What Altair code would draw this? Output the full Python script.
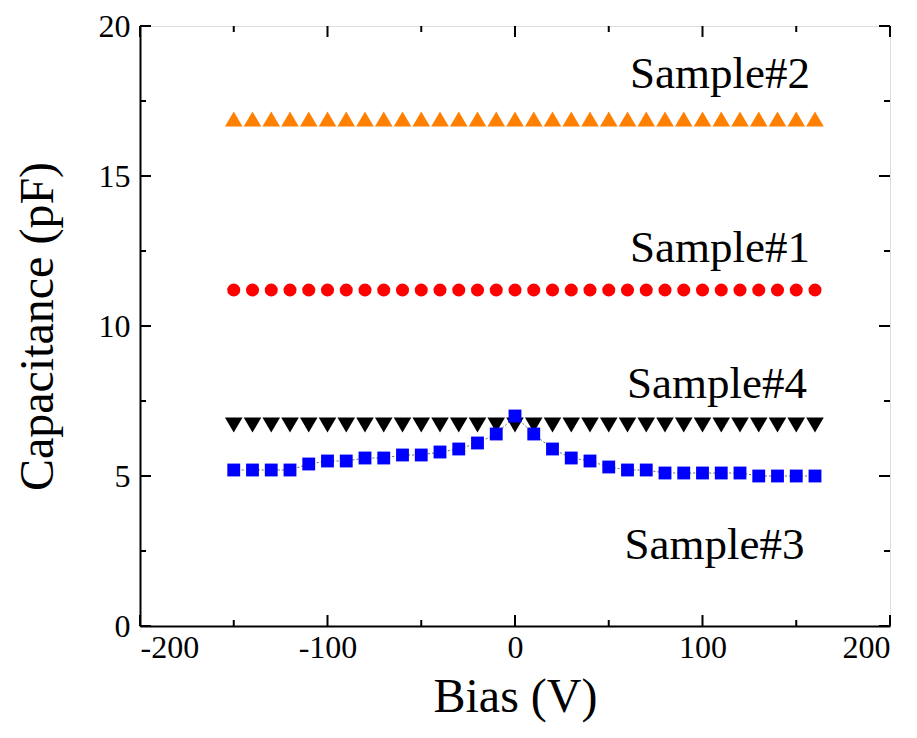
import altair as alt
import pandas as pd

bias = [-150, -140, -130, -120, -110, -100, -90, -80, -70, -60, -50, -40, -30, -20, -10, 0,
        10, 20, 30, 40, 50, 60, 70, 80, 90, 100, 110, 120, 130, 140, 150, 160]
sample1 = [11.2] * 32
sample2 = [16.9] * 32
sample4 = [6.7] * 32
sample3 = [5.2, 5.2, 5.2, 5.2, 5.4, 5.5, 5.5, 5.6, 5.6, 5.7, 5.7, 5.8, 5.9, 6.1, 6.4, 7.0,
           6.4, 5.9, 5.6, 5.5, 5.3, 5.2, 5.2, 5.1, 5.1, 5.1, 5.1, 5.1, 5.0, 5.0, 5.0, 5.0]

label_text = ["Sample#2", "Sample#1", "Sample#4", "Sample#3"]
label_x = [109.3, 109.3, 107.7, 106.4]
label_y = [18.4, 12.6, 8.07, 2.7]

x_major = [-200, -100, 0, 100, 200]
x_minor = [-150, -50, 50, 150]
y_major = [0, 5, 10, 15, 20]
y_minor = [2.5, 7.5, 12.5, 17.5]

W, H = 750, 600
FONT = "Liberation Serif"

xs = alt.Scale(domain=[-200, 200], nice=False, zero=False)
ys = alt.Scale(domain=[0, 20], nice=False, zero=False)

def df(vals):
    return pd.DataFrame({"bias": bias, "cap": vals})

xaxis = alt.Axis(values=x_major, labelExpr="datum.value", ticks=False, grid=False, domainColor="black",
                 domainWidth=2, labelFont=FONT, labelFontSize=32, labelColor="black",
                 labelPadding=6, title="Bias (V)", titleFont=FONT, titleFontSize=48,
                 titleFontWeight="normal", titleColor="black", titlePadding=10)
yaxis = alt.Axis(values=y_major, labelExpr="datum.value", ticks=False, grid=False, domainColor="black",
                 domainWidth=2, labelFont=FONT, labelFontSize=32, labelColor="black",
                 labelPadding=10, title="Capacitance (pF)", titleFont=FONT, titleFontSize=48,
                 titleFontWeight="normal", titleColor="black", titlePadding=36)

X = lambda: alt.X("bias:Q", scale=xs, axis=xaxis)
Y = lambda: alt.Y("cap:Q", scale=ys, axis=yaxis)

line3 = alt.Chart(df(sample3)).mark_line(color="black", strokeWidth=0.6,
                                         strokeDash=[2, 2]).encode(x=X(), y=Y())
s2 = alt.Chart(df(sample2)).mark_point(shape="triangle-up", filled=True, size=310,
                                       color="#ff8000", opacity=1).encode(x=X(), y=Y())
s1 = alt.Chart(df(sample1)).mark_point(shape="circle", filled=True, size=170,
                                       color="#ff0000", opacity=1).encode(x=X(), y=Y())
s4 = alt.Chart(df(sample4)).mark_point(shape="triangle-down", filled=True, size=310,
                                       color="black", opacity=1).encode(x=X(), y=Y())
s3 = alt.Chart(df(sample3)).mark_point(shape="square", filled=True, size=165,
                                       color="#0000ff", opacity=1).encode(x=X(), y=Y())

labels = alt.Chart(pd.DataFrame({"t": label_text, "bias": label_x, "cap": label_y})).mark_text(
    font=FONT, fontSize=45, color="black", align="center", baseline="middle"
).encode(x=alt.X("bias:Q", scale=xs), y=alt.Y("cap:Q", scale=ys), text="t:N")

def xticks(vals, length):
    d = pd.DataFrame({"bias": vals})
    bot = alt.Chart(d).mark_rule(color="black", strokeWidth=2).encode(
        x=alt.X("bias:Q", scale=xs), y=alt.value(H), y2=alt.value(H - length))
    top = alt.Chart(d).mark_rule(color="black", strokeWidth=2).encode(
        x=alt.X("bias:Q", scale=xs), y=alt.value(0), y2=alt.value(length))
    return [bot, top]

def yticks(vals, length):
    d = pd.DataFrame({"cap": vals})
    left = alt.Chart(d).mark_rule(color="black", strokeWidth=2).encode(
        y=alt.Y("cap:Q", scale=ys), x=alt.value(0), x2=alt.value(length))
    right = alt.Chart(d).mark_rule(color="black", strokeWidth=2).encode(
        y=alt.Y("cap:Q", scale=ys), x=alt.value(W), x2=alt.value(W - length))
    return [left, right]

ticks = xticks(x_major, 11) + xticks(x_minor, 6) + yticks(y_major, 11) + yticks(y_minor, 6)

chart = alt.layer(line3, s2, s1, s4, s3, labels, *ticks).properties(
    width=W, height=H,
    autosize=alt.AutoSizeParams(type="none"),
    padding={"left": 132, "top": 18, "right": 19, "bottom": 104},
).configure_view(stroke="black", strokeWidth=2).configure(background="white")

chart.save("out.html", embed_options={"renderer": "svg", "actions": False})
